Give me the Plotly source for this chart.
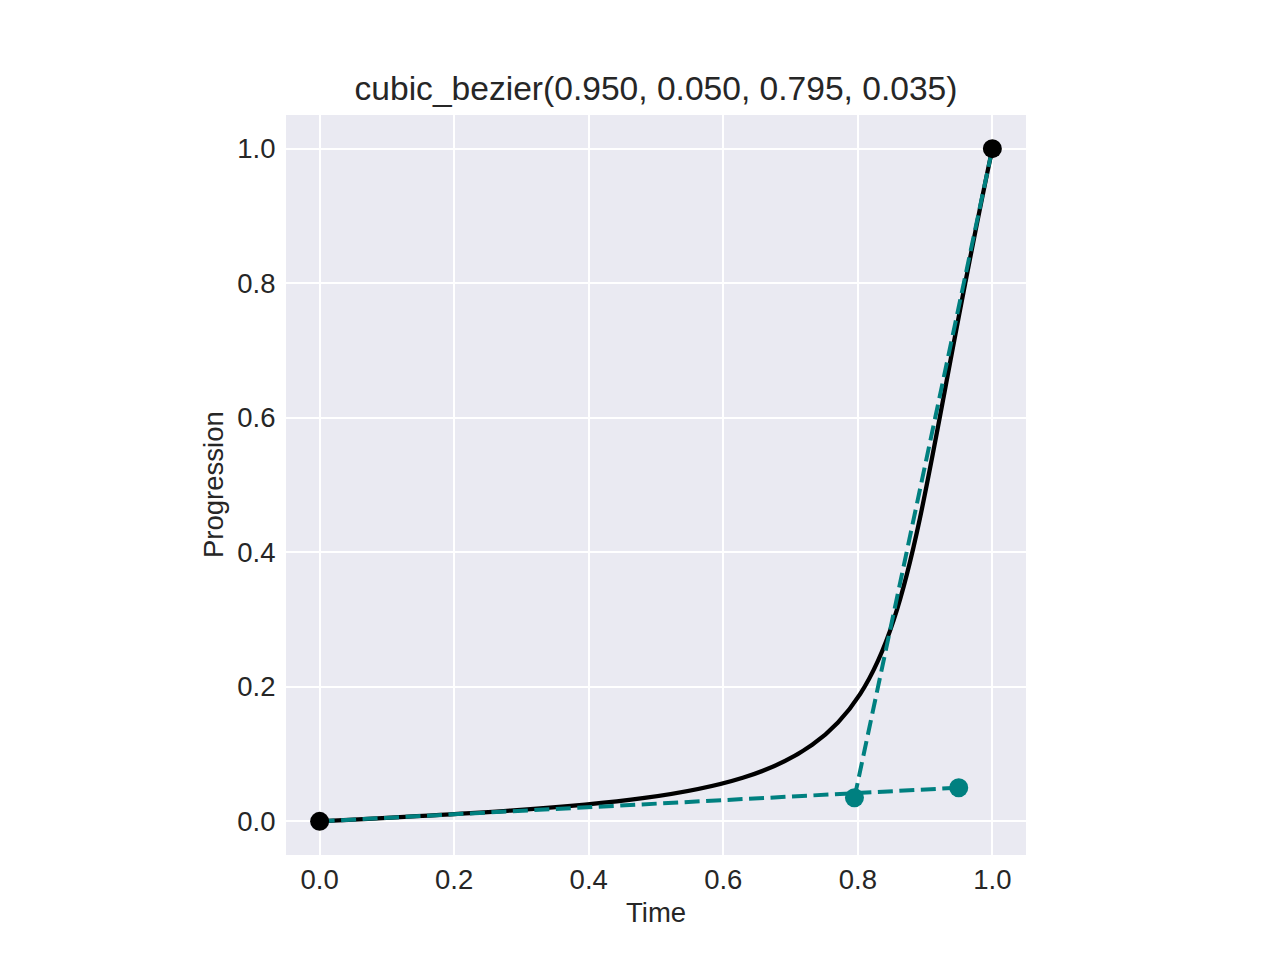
import plotly.graph_objects as go

# Control points of the cubic Bezier (CSS-style cubic_bezier(x1, y1, x2, y2))
start_point = [0.0, 0.0]
control_1 = [0.950, 0.050]
control_2 = [0.795, 0.035]
end_point = [1.0, 1.0]

tick_values = [0.0, 0.2, 0.4, 0.6, 0.8, 1.0]
tick_labels = ["0.0", "0.2", "0.4", "0.6", "0.8", "1.0"]

title_text = "cubic_bezier({:.3f}, {:.3f}, {:.3f}, {:.3f})".format(
    control_1[0], control_1[1], control_2[0], control_2[1])

TEAL = "#008080"
TXT = "#262626"
FONT = "Liberation Sans, Arial, sans-serif"
DASH = "15px,6.5px"

fig = go.Figure()

# dashed control handles
fig.add_trace(go.Scatter(x=[start_point[0], control_1[0]], y=[start_point[1], control_1[1]],
                         mode="lines", line=dict(color=TEAL, width=4, dash=DASH),
                         showlegend=False, hoverinfo="skip"))
fig.add_trace(go.Scatter(x=[control_2[0], end_point[0]], y=[control_2[1], end_point[1]],
                         mode="lines", line=dict(color=TEAL, width=4, dash=DASH),
                         showlegend=False, hoverinfo="skip"))
# control point markers
fig.add_trace(go.Scatter(x=[control_1[0], control_2[0]], y=[control_1[1], control_2[1]],
                         mode="markers", marker=dict(color=TEAL, size=19, line=dict(width=0)),
                         showlegend=False))
# end point markers
fig.add_trace(go.Scatter(x=[start_point[0], end_point[0]], y=[start_point[1], end_point[1]],
                         mode="markers", marker=dict(color="black", size=19, line=dict(width=0)),
                         showlegend=False))

# Bezier curve drawn by the library as an SVG cubic path in data coordinates
path = "M {},{} C {},{} {},{} {},{}".format(start_point[0], start_point[1],
                                             control_1[0], control_1[1],
                                             control_2[0], control_2[1],
                                             end_point[0], end_point[1])
fig.add_shape(type="path", path=path, xref="x", yref="y",
              line=dict(color="black", width=4.3), layer="between")

axis_common = dict(
    range=[-0.05, 1.05], tickvals=tick_values, ticktext=tick_labels,
    showgrid=True, gridcolor="white", gridwidth=2, zeroline=False,
    showline=False, ticks="outside", tickcolor="rgba(0,0,0,0)",
    tickfont=dict(family=FONT, size=27.5, color=TXT),
)

fig.update_layout(
    width=1280, height=960, autosize=False,
    margin=dict(l=286, r=254, t=115, b=105),
    paper_bgcolor="white", plot_bgcolor="#EAEAF2",
    xaxis=dict(**axis_common, ticklen=0),
    yaxis=dict(**axis_common, ticklen=4),
    title=dict(text=title_text, x=0.5, xref="paper", y=1 - 88 / 960, yanchor="middle",
               font=dict(family=FONT, size=33.6, color=TXT)),
    annotations=[
        dict(text="Time", xref="paper", yref="paper", x=0.5, y=(960 - 105 - 912) / 740,
             yanchor="middle", xanchor="center", showarrow=False,
             font=dict(family=FONT, size=27.5, color=TXT)),
        dict(text="Progression", xref="paper", yref="paper", x=(213 - 286) / 740, y=0.5,
             xanchor="center", yanchor="middle", textangle=-90, showarrow=False,
             font=dict(family=FONT, size=27.5, color=TXT)),
    ],
)

fig.write_html("out.html")
